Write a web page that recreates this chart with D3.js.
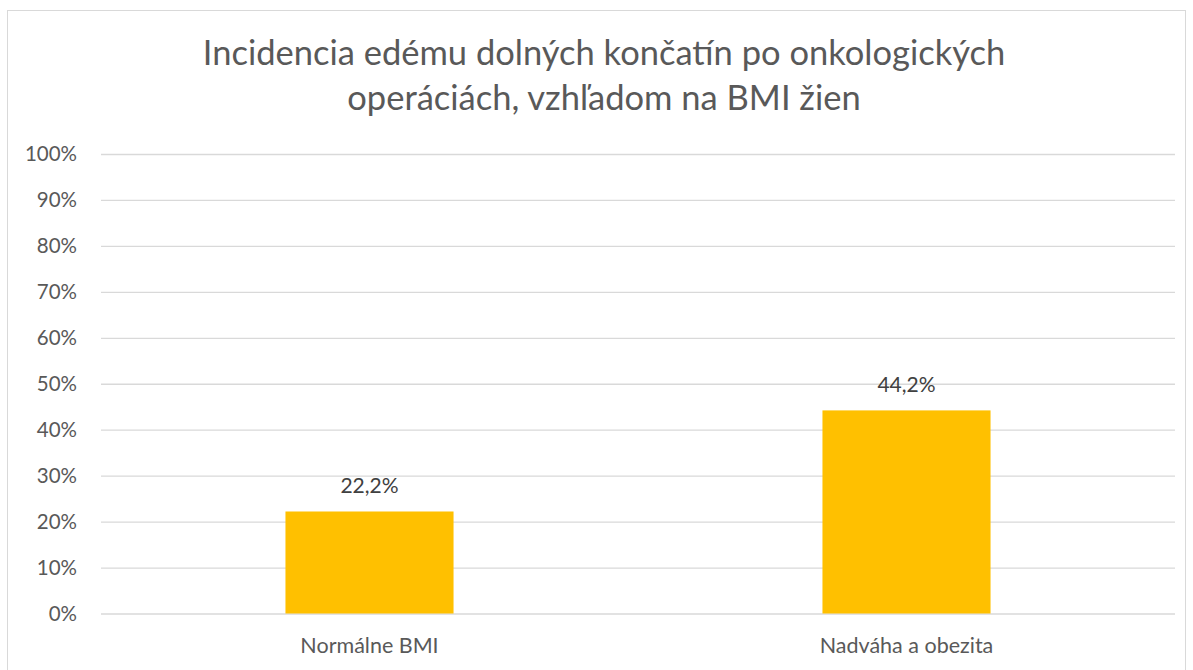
<!DOCTYPE html>
<html>
<head>
<meta charset="utf-8">
<script src="https://cdn.jsdelivr.net/npm/d3@7"></script>
<style>
  html, body { margin: 0; padding: 0; background: #fff; }
  svg { display: block; font-family: Lato, "Open Sans", sans-serif; }
</style>
</head>
<body>
<svg id="chart" width="1193" height="670"></svg>
<script>
const titleLines = ["Incidencia edému dolných končatín po onkologických", "operáciách, vzhľadom na BMI žien"];
const categories = ["Normálne BMI", "Nadváha a obezita"];
const values = [0.222, 0.442];
const valueLabels = ["22,2%", "44,2%"];
const yTicks = [0, 0.1, 0.2, 0.3, 0.4, 0.5, 0.6, 0.7, 0.8, 0.9, 1.0];

const svg = d3.select("#chart");
const W = 1193, H = 670;
const margin = { left: 101, right: 18, top: 154, bottom: 56.5 };

// outer border
svg.append("rect").attr("x", 7.5).attr("y", 10.5).attr("width", 1178).attr("height", 680)
  .attr("fill", "#fff").attr("stroke", "#d9d9d9").attr("stroke-width", 1);

const x = d3.scaleBand().domain(categories).range([margin.left, W - margin.right]).paddingInner(0.687).paddingOuter(0.3435);
const y = d3.scaleLinear().domain([0, 1]).range([H - margin.bottom, margin.top]);

// title
svg.append("g").selectAll("text").data(titleLines).join("text")
  .attr("x", 604).attr("y", (d, i) => 65 + i * 45)
  .attr("text-anchor", "middle").attr("fill", "#595959")
  .attr("font-size", 34.5).text(d => d);

// gridlines
const yAxis = d3.axisLeft(y).tickValues(yTicks).tickSize(-(W - margin.left - margin.right))
  .tickFormat(d3.format(".0%")).tickPadding(24);
const gy = svg.append("g").attr("transform", `translate(${margin.left},0)`).call(yAxis);
gy.select(".domain").remove();
gy.selectAll(".tick line").attr("stroke", "#d9d9d9").attr("stroke-width", 1.3);
gy.selectAll(".tick text").attr("fill", "#595959").attr("font-size", 20.5)
  .attr("font-family", "Lato, sans-serif");

// bars
svg.append("g").selectAll("rect").data(values).join("rect")
  .attr("x", (d, i) => x(categories[i]))
  .attr("width", x.bandwidth())
  .attr("y", d => y(d))
  .attr("height", d => y(0) - y(d))
  .attr("fill", "#ffc000");

// value labels
svg.append("g").selectAll("text").data(values).join("text")
  .attr("x", (d, i) => x(categories[i]) + x.bandwidth() / 2)
  .attr("y", d => y(d) - 18)
  .attr("text-anchor", "middle").attr("fill", "#404040").attr("font-size", 21)
  .text((d, i) => valueLabels[i]);

// category labels
const xAxis = d3.axisBottom(x).tickSize(0).tickPadding(24);
const gx = svg.append("g").attr("transform", `translate(0,${y(0)})`).call(xAxis);
gx.select(".domain").remove();
gx.selectAll(".tick text").attr("fill", "#595959").attr("font-size", 21.5)
  .attr("font-family", "Lato, sans-serif");
</script>
</body>
</html>
